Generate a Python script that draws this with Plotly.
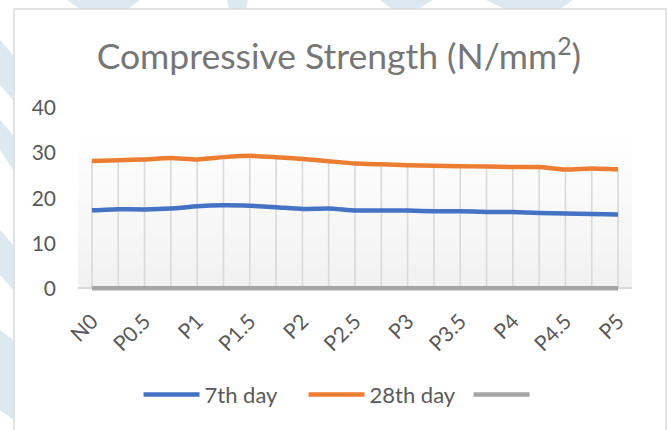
import plotly.graph_objects as go

# ---- data ----
categories = ["N0", "P0.25", "P0.5", "P0.75", "P1", "P1.25", "P1.5", "P1.75", "P2", "P2.25",
              "P2.5", "P2.75", "P3", "P3.25", "P3.5", "P3.75", "P4", "P4.25", "P4.5", "P4.75", "P5"]
day7 = [17.3, 17.55, 17.5, 17.7, 18.2, 18.4, 18.3, 18.0, 17.6, 17.7, 17.25,
        17.25, 17.25, 17.1, 17.1, 16.95, 16.9, 16.7, 16.6, 16.5, 16.35]
day28 = [28.25, 28.4, 28.6, 28.9, 28.6, 29.1, 29.4, 29.1, 28.7, 28.2, 27.7,
         27.5, 27.3, 27.2, 27.1, 27.0, 26.9, 26.9, 26.35, 26.6, 26.4]
third = [0] * len(categories)
tick_labels = categories[::2]
y_ticks = [0, 10, 20, 30, 40]

W, H = 667, 430
Y_MIN, Y_MAX = -0.6, 40
PX_PER_UNIT = (288.5 - 108) / 40
L, R, T = 78, 632, 108
B = 288.5 - Y_MIN * PX_PER_UNIT


def px_x(p):
    return (p - L) / (R - L)


def px_y(p):
    return (B - p) / (B - T)


fig = go.Figure()

# drop lines from the highest series down to the category axis
dx, dy = [], []
for c, a, b in zip(categories, day7, day28):
    dx += [c, c, None]
    dy += [0, max(a, b), None]
fig.add_trace(go.Scatter(x=dx, y=dy, mode="lines", line=dict(color="#d9d9d9", width=1.6),
                         showlegend=False, hoverinfo="skip"))

fig.add_trace(go.Scatter(x=categories, y=day7, name="7th day", mode="lines",
                         line=dict(color="#4472C4", width=4.5, shape="spline", smoothing=0.5)))
fig.add_trace(go.Scatter(x=categories, y=day28, name="28th day", mode="lines",
                         line=dict(color="#ED7D31", width=4.5, shape="spline", smoothing=0.5)))
fig.add_trace(go.Scatter(x=categories, y=third, name="", mode="lines",
                         line=dict(color="#A5A5A5", width=4.5)))

shapes = []
# plot-area gradient (white at top to light gray at bottom)
n = 24
top_px, bot_px = 131, 289
for i in range(n):
    y0 = top_px + (bot_px - top_px) * i / n
    y1 = top_px + (bot_px - top_px) * (i + 1) / n
    t = (i + 0.5) / n
    g = int(round(255 - (255 - 241) * t))
    shapes.append(dict(type="rect", xref="paper", yref="paper", x0=0, x1=1,
                       y0=px_y(y1), y1=px_y(y0), line=dict(width=0),
                       fillcolor=f"rgb({g},{g},{g})", layer="below"))

# faint watermark patches outside the chart border
wm = "rgba(205,224,234,0.7)"
patches = [
    [(67, 0), (140, 0), (128, 9), (80, 9)],
    [(227, 0), (248, 0), (246, 9), (229, 9)],
    [(380, 0), (433, 0), (418, 9), (392, 9)],
    [(486, 0), (573, 0), (560, 9), (505, 9)],
    [(0, 40), (13, 55), (13, 100), (0, 85)],
    [(0, 120), (13, 135), (13, 170), (0, 150)],
    [(0, 230), (13, 245), (13, 290), (0, 275)],
    [(0, 330), (13, 340), (13, 420), (0, 410)],
]
for poly in patches:
    path = "M " + " L ".join(f"{px_x(x):.5f},{px_y(y):.5f}" for x, y in poly) + " Z"
    shapes.append(dict(type="path", xref="paper", yref="paper", path=path,
                       fillcolor=wm, line=dict(width=0), layer="below"))

# chart border
shapes.append(dict(type="rect", xref="paper", yref="paper", x0=px_x(14), x1=px_x(666),
                   y0=px_y(440), y1=px_y(9), line=dict(color="#d9d9d9", width=1.5),
                   fillcolor="rgba(0,0,0,0)", layer="below"))

fig.update_layout(
    width=W, height=H,
    margin=dict(l=L, r=W - R, t=T, b=H - B, pad=0),
    paper_bgcolor="white", plot_bgcolor="rgba(0,0,0,0)",
    font=dict(family="Lato, Carlito, sans-serif", color="#595959"),
    title=dict(text="Compressive Strength (N/mm<sup>2</sup>)", x=0.508, xanchor="center",
               y=1 - 57 / H, yanchor="middle", yref="container",
               font=dict(size=35.5, color="#767676")),
    xaxis=dict(type="category", range=[-0.53, 20.53], tickmode="array", tickvals=tick_labels,
               ticktext=tick_labels, tickangle=-45, showgrid=False, zeroline=False,
               showline=False, ticks="",
               ticklabelstandoff=13, tickfont=dict(size=21, color="#595959")),
    yaxis=dict(range=[Y_MIN, Y_MAX], tickvals=y_ticks, showgrid=False, zeroline=True,
               zerolinecolor="#d9d9d9", zerolinewidth=1.5,
               showline=False, ticks="", ticklabelstandoff=21,
               tickfont=dict(size=21, color="#595959")),
    legend=dict(orientation="h", x=0.556, xanchor="center", y=px_y(395), yanchor="middle",
                font=dict(size=22, color="#595959"), bgcolor="rgba(0,0,0,0)",
                itemwidth=56, tracegroupgap=0, entrywidth=94, entrywidthmode="pixels"),
    shapes=shapes,
    showlegend=True,
)

fig.write_html("out.html", config={"displayModeBar": False},
               post_script="document.body.style.margin='0px';document.body.style.overflow='hidden';")
